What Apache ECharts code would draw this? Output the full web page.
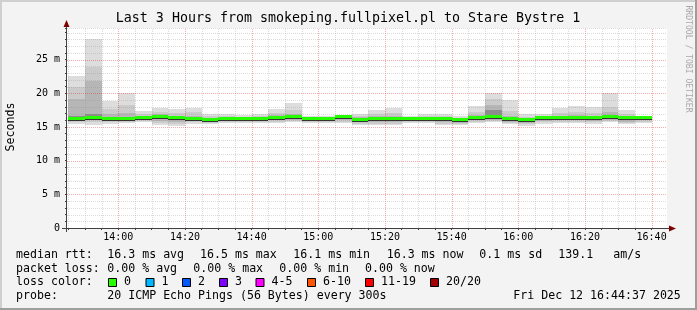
<!DOCTYPE html>
<html><head><meta charset="utf-8">
<script src="https://cdn.jsdelivr.net/npm/echarts@6/dist/echarts.min.js"></script>
<style>html,body{margin:0;padding:0;background:#f3f3f3}#c{width:697px;height:310px}</style>
</head><body><div id="c"></div>
<script>
// ---------------- data ----------------
const titleText = 'Last 3 Hours from smokeping.fullpixel.pl to Stare Bystre 1';
const rangeStart = '13:44:37';
const rangeEnd = '16:44:37';
const stepSeconds = 300;
const yMax = 29.7;
const slots = ['13:45','13:50','13:55','14:00','14:05','14:10','14:15','14:20','14:25','14:30','14:35','14:40',
  '14:45','14:50','14:55','15:00','15:05','15:10','15:15','15:20','15:25','15:30','15:35','15:40',
  '15:45','15:50','15:55','16:00','16:05','16:10','16:15','16:20','16:25','16:30','16:35'];
const xTickLabels = ['14:00','14:20','14:40','15:00','15:20','15:40','16:00','16:20','16:40'];
const yTickValues = [0,5,10,15,20,25];
const yTickLabels = ['0','5 m','10 m','15 m','20 m','25 m'];
// median rtt (ms)
const median = [16.2,16.4,16.2,16.2,16.3,16.5,16.4,16.25,16.1,16.25,16.25,16.25,16.4,16.5,16.2,16.2,16.45,16.1,16.2,16.2,16.2,16.2,16.2,16.1,16.4,16.5,16.15,16.1,16.3,16.4,16.4,16.3,16.5,16.35,16.4];
// smoke bands (ms): outer (u1/d1) to inner (u4/d4)
const u1 = [22.56,28.04,18.9,20.1,17.4,17.85,17.7,17.85,17.0,17.0,16.75,16.9,17.7,18.6,16.7,16.65,16.85,17.0,17.5,17.85,16.7,16.9,17.0,16.7,18.1,20.0,19.0,16.9,17.0,17.85,18.1,18.0,20.0,17.5,16.7];
const u2 = [21.0,23.9,17.6,18.2,16.9,17.3,17.1,17.2,16.7,16.7,16.5,16.6,17.1,17.5,16.5,16.5,16.7,16.7,17.0,17.1,16.5,16.6,16.7,16.4,17.3,19.2,17.4,16.5,16.7,17.1,17.2,17.1,18.0,16.9,16.6];
const u3 = [19.1,21.8,17.0,17.1,16.6,16.9,16.7,16.7,16.4,16.5,16.4,16.4,16.8,16.9,16.4,16.4,16.6,16.5,16.6,16.7,16.4,16.4,16.5,16.3,16.8,18.2,16.7,16.3,16.5,16.7,16.8,16.6,17.2,16.6,16.5];
const u4 = [16.7,17.0,16.5,16.5,16.5,16.7,16.6,16.5,16.3,16.4,16.4,16.4,16.6,16.7,16.4,16.4,16.6,16.3,16.4,16.4,16.4,16.4,16.4,16.2,16.6,17.5,16.4,16.2,16.5,16.6,16.6,16.5,16.8,16.5,16.5];
const d4 = [16.0,16.2,16.0,16.0,16.1,16.2,16.0,16.0,15.9,16.0,16.0,16.0,16.1,16.3,16.0,16.0,16.2,15.8,15.9,15.9,16.0,16.0,15.9,15.8,16.2,16.3,15.9,15.8,16.1,16.2,16.2,16.1,16.3,16.0,16.2];
const d3 = [15.9,16.0,15.9,15.9,16.0,15.9,15.8,15.9,15.8,15.9,15.9,15.9,16.0,16.1,15.9,15.9,16.0,15.7,15.7,15.7,15.9,15.9,15.7,15.6,16.0,16.1,15.8,15.6,15.9,16.0,16.0,15.9,16.1,15.8,16.0];
const d2 = [15.7,15.7,15.7,15.8,15.9,15.6,15.5,15.7,15.6,15.8,15.8,15.8,15.8,15.9,15.8,15.8,15.8,15.5,15.5,15.5,15.8,15.8,15.5,15.5,15.8,15.9,15.6,15.4,15.7,15.8,15.8,15.7,15.9,15.6,15.8];
const d1 = [15.5,15.3,15.5,15.6,15.7,15.3,15.1,15.5,15.4,15.6,15.6,15.6,15.6,15.7,15.6,15.6,15.6,15.3,15.3,15.3,15.6,15.6,15.3,15.3,15.6,15.7,15.4,15.2,15.5,15.6,15.6,15.5,15.7,15.4,15.6];
const lossLabels = ['0','1','2','3','4-5','6-10','11-19','20/20'];
const lossColors = ['#26ff00','#00b8ff','#0059ff','#7e00ff','#ff00ff','#ff5500','#ff0000','#a00000'];

// ---------------- helpers ----------------
function toSec(s){ const p=s.split(':').map(Number); return p[0]*3600+p[1]*60+(p[2]||0); }
const FONT = '"DejaVu Sans Mono", monospace';
const G = {left:67, top:28, right:30, bottom:82};
const W = 697, H = 310;
const plotBottom = H - G.bottom, plotRight = W - G.right;

// grid positions (every step within range)
const gridTimesMinor = [], gridTimesMajor = [];
const majorSet = new Set(xTickLabels.map(toSec));
for (let t = toSec(slots[0]); t <= toSec(rangeEnd); t += stepSeconds) {
  if (majorSet.has(t)) gridTimesMajor.push(t); else gridTimesMinor.push(t);
}
const levelsMinor = [], levelsMajor = [];
for (let v = 1; v < yMax; v++) { if (v % 5 === 0) levelsMajor.push(v); else levelsMinor.push(v); }
levelsMinor.push(yMax);

const GRID_MINOR = 'rgba(143,143,143,0.32)';
const GRID_MAJOR = 'rgba(223,0,0,0.33)';

function vGrid(times, color){
  return {type:'custom', z:3, silent:true, animation:false, data: times.map(t=>[t]),
    renderItem(p, api){
      const a = api.coord([api.value(0), 0]), b = api.coord([api.value(0), yMax]);
      const x = Math.round(a[0]) + 0.5;
      return {type:'line', shape:{x1:x, y1:Math.round(a[1]), x2:x, y2:Math.round(b[1])},
        style:{stroke:color, lineWidth:1, lineDash:[1,1]}};
    }};
}
function hGrid(levels, color){
  return {type:'custom', z:3, silent:true, animation:false, data: levels.map(v=>[toSec(rangeStart), v]),
    renderItem(p, api){
      const a = api.coord([toSec(rangeStart), api.value(1)]), b = api.coord([toSec(rangeEnd), api.value(1)]);
      const y = Math.round(a[1]) + 0.5;
      return {type:'line', shape:{x1:Math.round(a[0]), y1:y, x2:Math.round(b[0]), y2:y},
        style:{stroke:color, lineWidth:1, lineDash:[1,1]}};
    }};
}
function smoke(lo, hi, color){
  return {type:'custom', z:2, silent:true, animation:false,
    data: slots.map((s,i)=>[toSec(s), toSec(s)+stepSeconds, lo[i], hi[i]]),
    renderItem(p, api){
      const a = api.coord([api.value(0), api.value(3)]);
      const b = api.coord([api.value(1), api.value(2)]);
      const x0 = Math.round(a[0]), x1 = Math.round(b[0]);
      const y0 = Math.round(a[1]), y1 = Math.round(b[1]);
      return {type:'rect', shape:{x:x0, y:y0, width:x1-x0, height:Math.max(1, y1-y0)}, style:{fill:color}};
    }};
}
const medianSeries = {type:'custom', z:5, silent:true, animation:false,
  data: slots.map((s,i)=>[toSec(s), toSec(s)+stepSeconds, median[i]]),
  renderItem(p, api){
    const a = api.coord([api.value(0), api.value(2)]);
    const b = api.coord([api.value(1), api.value(2)]);
    const x0 = Math.round(a[0]), x1 = Math.round(b[0]), y = Math.round(a[1]);
    return {type:'group', children:[
      {type:'rect', shape:{x:x0, y:y-2, width:x1-x0, height:3}, style:{fill:lossColors[0]}},
      {type:'rect', shape:{x:x0, y:y+1, width:x1-x0, height:1}, style:{fill:'#333333'}}
    ]};
  }};

// ---------------- graphics (text & decoration) ----------------
const txt = (text, x, y, size, extra) => Object.assign({type:'text', x, y, silent:true,
  style:{text, fill:'#000', font: size+'px '+FONT, verticalAlign:'middle', align:'left'}}, extra||{});
const gfx = [
  {type:'rect', shape:{x:0,y:0,width:W,height:2}, style:{fill:'#cfcfcf'}, silent:true},
  {type:'rect', shape:{x:0,y:0,width:2,height:H}, style:{fill:'#cfcfcf'}, silent:true},
  {type:'rect', shape:{x:0,y:H-2,width:W,height:2}, style:{fill:'#9e9e9e'}, silent:true},
  {type:'rect', shape:{x:W-2,y:0,width:2,height:H}, style:{fill:'#9e9e9e'}, silent:true},
  txt(titleText, 348, 19, 13.3, {style:{text:titleText, fill:'#000', font:'13.3px '+FONT, align:'center', verticalAlign:'middle'}}),
  {type:'text', x:11, y:127, rotation:Math.PI/2, silent:true,
    style:{text:'Seconds', fill:'#000', font:'11.6px '+FONT, align:'center', verticalAlign:'middle'}},
  {type:'text', x:688, y:59, rotation:-Math.PI/2, silent:true,
    style:{text:'RRDTOOL / TOBI OETIKER', fill:'#a8a8a8', font:'8.1px '+FONT, align:'center', verticalAlign:'middle'}},
  // axes
  {type:'line', shape:{x1:G.left-0.5, y1:plotBottom+4, x2:G.left-0.5, y2:G.top-4}, style:{stroke:'#404040', lineWidth:1}, silent:true, z:10},
  {type:'polygon', shape:{points:[[G.left-3.5,G.top-1],[G.left+2.5,G.top-1],[G.left-0.5,G.top-8]]}, style:{fill:'#7f0000'}, silent:true, z:10},
  {type:'line', shape:{x1:G.left-5, y1:plotBottom+0.5, x2:plotRight+4, y2:plotBottom+0.5}, style:{stroke:'#404040', lineWidth:1}, silent:true, z:10},
  {type:'polygon', shape:{points:[[plotRight+2,plotBottom-2.5],[plotRight+2,plotBottom+3.5],[plotRight+9,plotBottom+0.5]]}, style:{fill:'#7f0000'}, silent:true, z:10},
  // legend lines
  txt('median rtt:', 16, 255, 11.6), txt('16.3 ms avg', 107.3, 255, 11.6), txt('16.5 ms max', 200, 255, 11.6),
  txt('16.1 ms min', 293.3, 255, 11.6), txt('16.3 ms now', 386.7, 255, 11.6), txt('0.1 ms sd', 479.3, 255, 11.6),
  txt('139.1', 558.3, 255, 11.6), txt('am/s', 613.3, 255, 11.6),
  txt('packet loss:', 16, 268.7, 11.6), txt('0.00 % avg', 107.3, 268.7, 11.6), txt('0.00 % max', 193.3, 268.7, 11.6),
  txt('0.00 % min', 279.3, 268.7, 11.6), txt('0.00 % now', 365, 268.7, 11.6),
  txt('loss color:', 16, 282.3, 11.6),
  txt('probe:', 16, 296, 11.6), txt('20 ICMP Echo Pings (56 Bytes) every 300s', 107.3, 296, 11.6),
  txt('Fri Dec 12 16:44:37 2025', 513.3, 296, 11.6)
];
const sqX = [108.5, 146, 182.5, 219.5, 256, 307.5, 365.5, 430.5];
lossLabels.forEach((l,i)=>{
  gfx.push({type:'rect', shape:{x:sqX[i], y:278.5, width:8, height:8}, style:{fill:lossColors[i], stroke:'#000', lineWidth:1}, silent:true});
  gfx.push(txt(l, sqX[i]+15.5, 282.3, 11.6));
});

// ---------------- chart ----------------
const chart = echarts.init(document.getElementById('c'), null, {renderer:'canvas'});
chart.setOption({
  backgroundColor:'#f3f3f3',
  animation:false,
  grid:{left:G.left, top:G.top, right:G.right, bottom:G.bottom, show:true, backgroundColor:'#ffffff', borderWidth:0},
  xAxis:{type:'value', min:toSec(rangeStart), max:toSec(rangeEnd),
    axisLine:{show:false}, splitLine:{show:false},
    axisTick:{show:true, length:2, customValues:gridTimesMinor.concat(gridTimesMajor), lineStyle:{color:'#404040'}},
    axisLabel:{customValues:xTickLabels.map(toSec), fontFamily:FONT, fontSize:10, color:'#000', margin:4,
      formatter:v=>{ const i = xTickLabels.map(toSec).indexOf(v); return i>=0 ? xTickLabels[i] : ''; }}},
  yAxis:{type:'value', min:0, max:yMax,
    axisLine:{show:false}, splitLine:{show:false},
    axisTick:{show:true, length:2, customValues:levelsMinor.concat(levelsMajor, [0]), lineStyle:{color:'#404040'}},
    axisLabel:{customValues:yTickValues, fontFamily:FONT, fontSize:10, color:'#000', margin:7,
      formatter:v=>{ const i = yTickValues.indexOf(v); return i>=0 ? yTickLabels[i] : ''; }}},
  graphic: gfx,
  series:[
    smoke(d1,u1,'#dddddd'), smoke(d2,u2,'#cbcbcb'), smoke(d3,u3,'#b6b6b6'), smoke(d4,u4,'#8c8c8c'),
    vGrid(gridTimesMinor, GRID_MINOR), vGrid(gridTimesMajor, GRID_MAJOR),
    hGrid(levelsMinor, GRID_MINOR), hGrid(levelsMajor, GRID_MAJOR),
    medianSeries
  ]
});
</script></body></html>
